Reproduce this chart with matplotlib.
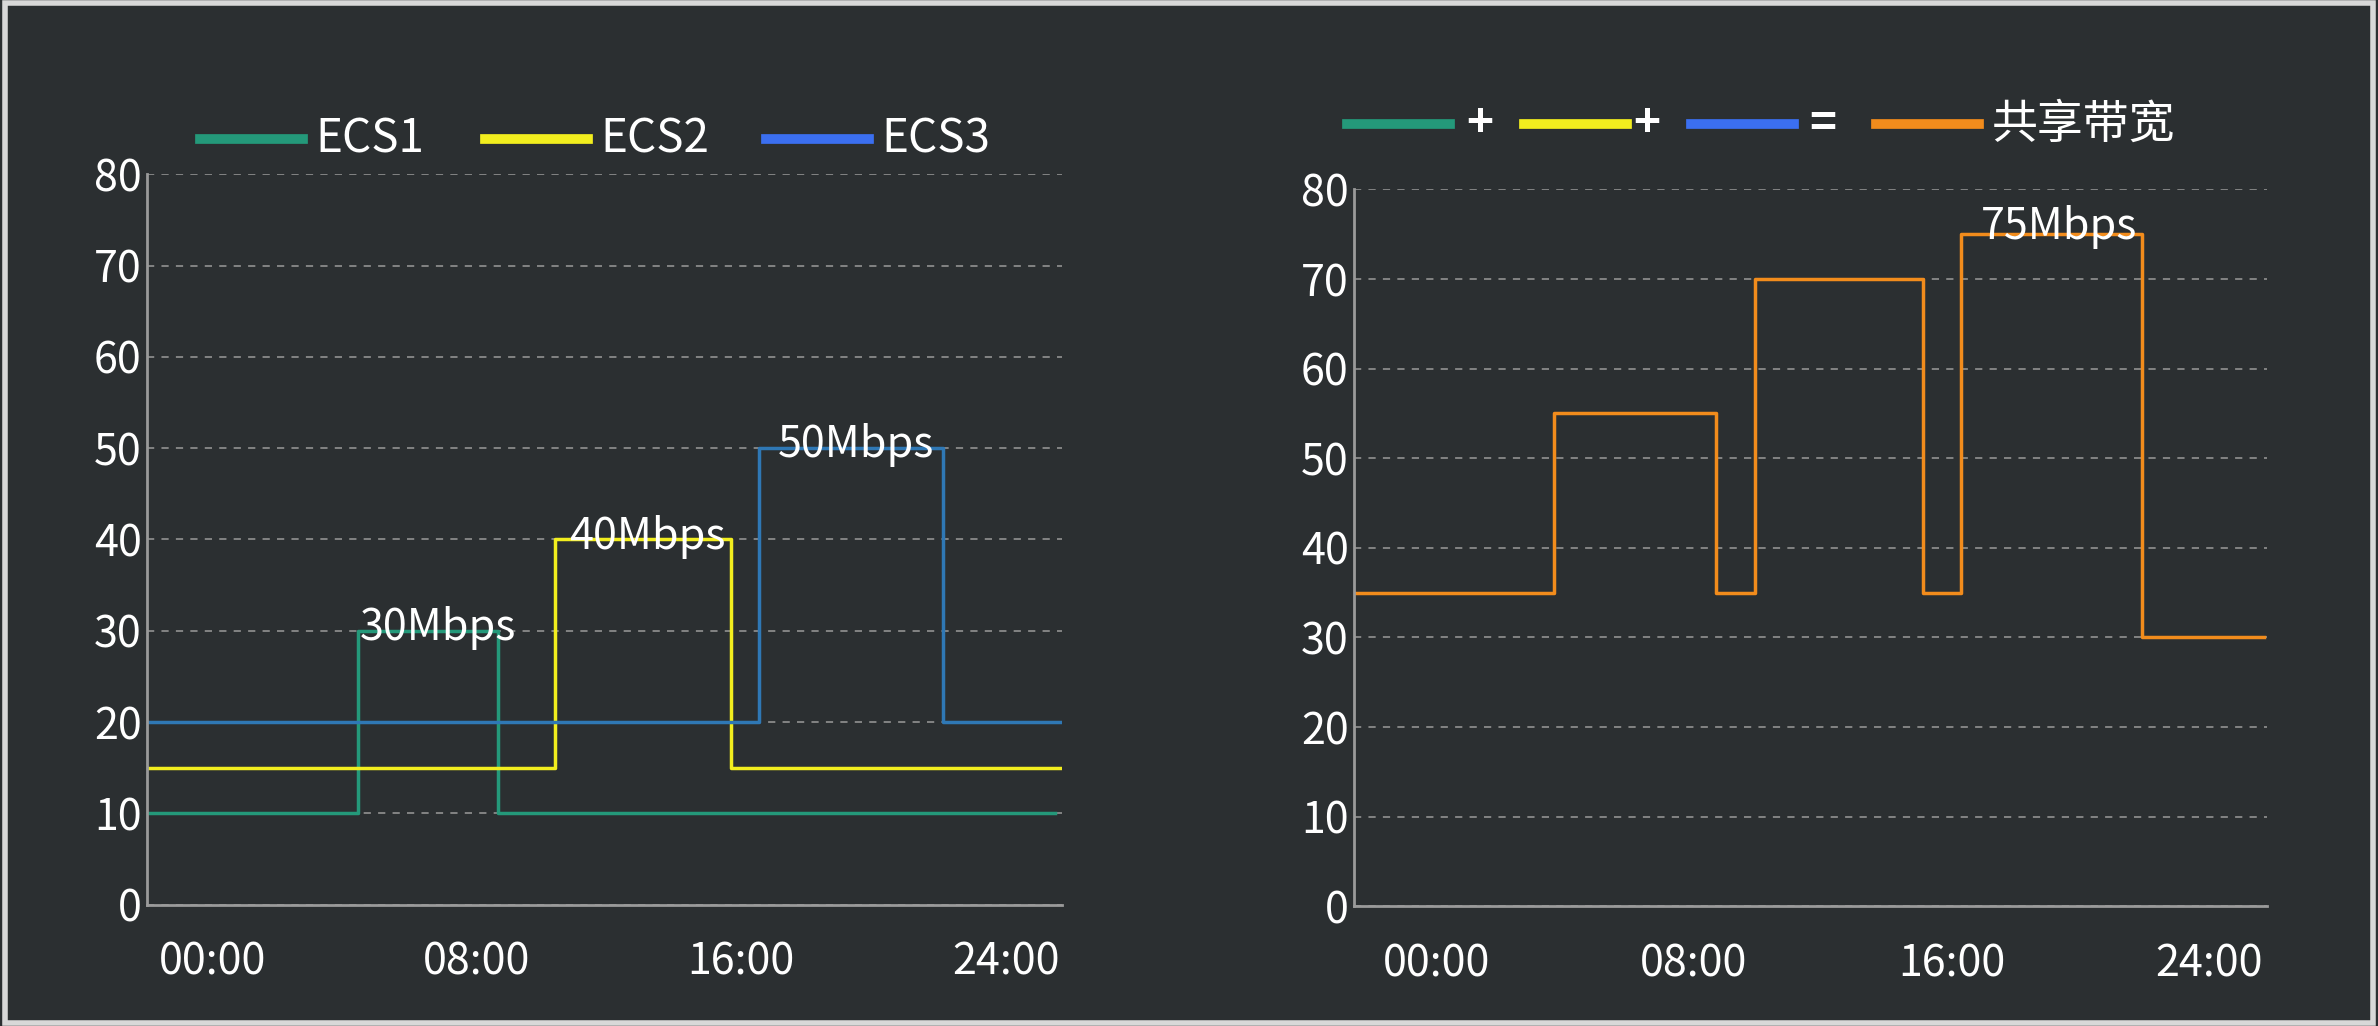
import matplotlib
matplotlib.use("Agg")
import matplotlib.pyplot as plt
from matplotlib.lines import Line2D
from matplotlib.patches import Rectangle

plt.rcParams['font.family'] = ['Noto Sans CJK SC', 'DejaVu Sans']
plt.rcParams['font.weight'] = 'medium'

# step data: (hour where level starts, level)
ecs1_x = [-2.0, 4.4, 8.65, 25.5]
ecs1_y = [10, 30, 10, 10]
ecs2_x = [-2.0, 10.35, 15.7, 25.7]
ecs2_y = [15, 40, 15, 15]
ecs3_x = [-2.0, 16.55, 22.1, 25.7]
ecs3_y = [20, 50, 20, 20]
share_x = [-2.5, 3.67, 8.7, 9.9, 15.1, 16.3, 21.9, 25.7]
share_y = [35, 55, 35, 70, 35, 75, 30, 30]

xticks = [0, 8, 16, 24]
xlabels = ['00:00', '08:00', '16:00', '24:00']
yticks = list(range(0, 81, 10))

BG = '#2b2f31'
C1, C2, C3, C3L, C4 = '#24997a', '#f2ee1e', '#2f78b5', '#3b6ff0', '#f28c1c'

fig = plt.figure(figsize=(23.78, 10.26), dpi=100, facecolor=BG)
fig.patches.append(Rectangle((0.002, 0.003), 0.996, 0.994, transform=fig.transFigure,
                             fill=False, edgecolor='#d8d8d8', lw=4))

def style(ax, xlim):
    ax.set_facecolor(BG)
    ax.set_xlim(*xlim)
    ax.set_ylim(0, 80)
    ax.set_xticks(xticks)
    ax.set_xticklabels(xlabels)
    ax.set_yticks(yticks)
    ax.tick_params(colors='white', labelsize=31, length=0)
    ax.tick_params(axis='x', pad=26)
    ax.tick_params(axis='y', pad=4)
    for s in ['top', 'right']:
        ax.spines[s].set_visible(False)
    for s in ['left', 'bottom']:
        ax.spines[s].set_color('#9a9a9a')
        ax.spines[s].set_linewidth(2)
    ax.grid(axis='y', color='#8a8a8a', ls=(0, (4, 4)), lw=1.3)
    ax.set_axisbelow(True)

ax1 = fig.add_axes([0.0619, 0.1182, 0.3846, 0.712])
style(ax1, (-1.98, 25.7))
ax1.step(ecs1_x, ecs1_y, where='post', color=C1, lw=2.5)
ax1.step(ecs2_x, ecs2_y, where='post', color=C2, lw=2.5)
ax1.step(ecs3_x, ecs3_y, where='post', color=C3, lw=2.5)
for x, y, t in [(4.45, 29, '30Mbps'), (10.8, 39, '40Mbps'), (17.1, 49, '50Mbps')]:
    ax1.text(x, y, t, color='white', fontsize=31)

ax2 = fig.add_axes([0.5695, 0.1167, 0.3839, 0.6987])
style(ax2, (-2.54, 25.8))
ax2.step(share_x, share_y, where='post', color=C4, lw=2.5)
ax2.text(16.9, 74.5, '75Mbps', color='white', fontsize=31)

# left legend
ly = 1 - 92 / 677
for x0, c, t in [(132, C1, 'ECS1'), (320, C2, 'ECS2'), (505, C3L, 'ECS3')]:
    fig.add_artist(Line2D([x0 / 1568, (x0 + 68) / 1568], [ly, ly], color=c, lw=7))
    fig.text((x0 + 76) / 1568, ly, t, color='white', fontsize=33, va='center')

# right legend
ry = 1 - 82 / 677
for x0, c in [(888, C1), (1005, C2), (1115, C3L), (1237, C4)]:
    fig.add_artist(Line2D([x0 / 1568, (x0 + 68) / 1568], [ry, ry], color=c, lw=7))
for x0, t in [(967, '+'), (1077, '+'), (1193, '='), (1313, '共享带宽')]:
    fig.text(x0 / 1568, ry, t, color='white', fontsize=33, va='center',
             fontweight='bold' if t in '+=' else 'medium')

fig.savefig('out.png', dpi=100, facecolor=BG)
